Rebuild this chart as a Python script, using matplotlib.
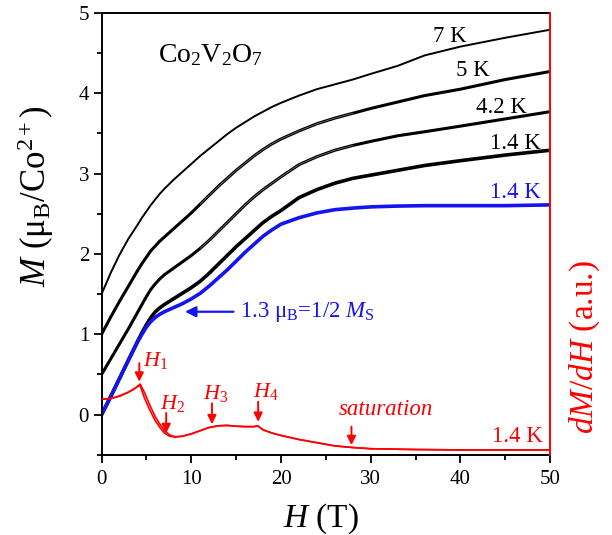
import numpy as np
import matplotlib
matplotlib.use('Agg')
import matplotlib.pyplot as plt

# field (T) and magnetization curves (muB/Co2+)
field = [0, 1, 2, 3, 4, 4.5, 5, 5.5, 6, 6.5, 7, 8, 9, 10, 11, 12, 13, 14, 15, 16,
         17, 18, 19, 20, 22, 24, 26, 28, 30, 33, 36, 40, 45, 50]

m_7K = [1.50, 1.76, 1.99, 2.19, 2.36, 2.45, 2.53, 2.61, 2.68, 2.75, 2.81, 2.92, 3.02,
        3.12, 3.22, 3.31, 3.40, 3.49, 3.57, 3.64, 3.71, 3.77, 3.83, 3.88, 3.97, 4.05,
        4.11, 4.17, 4.24, 4.34, 4.47, 4.58, 4.69, 4.79]
m_5K = [1.00, 1.21, 1.41, 1.60, 1.79, 1.88, 1.96, 2.04, 2.10, 2.16, 2.21, 2.31, 2.41,
        2.51, 2.62, 2.73, 2.84, 2.94, 3.04, 3.13, 3.22, 3.30, 3.37, 3.43, 3.53, 3.62,
        3.69, 3.75, 3.81, 3.89, 3.97, 4.05, 4.17, 4.27]
m_42K = [0.50, 0.69, 0.88, 1.07, 1.27, 1.37, 1.47, 1.56, 1.63, 1.69, 1.74, 1.82, 1.90,
         1.98, 2.07, 2.17, 2.28, 2.39, 2.50, 2.61, 2.71, 2.80, 2.88, 2.96, 3.11, 3.21,
         3.29, 3.35, 3.40, 3.47, 3.52, 3.59, 3.68, 3.77]
m_14K = [0.00, 0.22, 0.45, 0.68, 0.91, 1.02, 1.12, 1.21, 1.28, 1.33, 1.37, 1.44, 1.51,
         1.58, 1.66, 1.76, 1.87, 1.98, 2.09, 2.19, 2.29, 2.39, 2.47, 2.54, 2.70, 2.80,
         2.88, 2.94, 2.98, 3.04, 3.10, 3.16, 3.23, 3.29]
m_14K_corr = [0.00, 0.22, 0.45, 0.68, 0.90, 1.00, 1.09, 1.16, 1.21, 1.25, 1.28, 1.33,
              1.38, 1.44, 1.51, 1.60, 1.70, 1.80, 1.91, 2.02, 2.12, 2.22, 2.30, 2.37,
              2.45, 2.51, 2.55, 2.57, 2.585, 2.595, 2.60, 2.60, 2.60, 2.61]

# dM/dH at 1.4 K (a.u.), up and down sweeps
field_d = [0, 1, 2, 3, 3.5, 4.0, 4.3, 4.8, 5.4, 6.0, 6.5, 7.0, 7.6, 8.2, 9, 10, 11, 12,
           13, 14, 15, 16, 17, 17.4, 18, 19, 20, 22, 24, 26, 28, 30, 35, 40, 45, 50]
dmdh_up = [0.19, 0.20, 0.23, 0.28, 0.31, 0.35, 0.36, 0.20, 0.05, -0.08, -0.16, -0.23,
           -0.27, -0.28, -0.27, -0.24, -0.20, -0.16, -0.14, -0.135, -0.145, -0.15,
           -0.15, -0.14, -0.19, -0.23, -0.26, -0.31, -0.35, -0.39, -0.41, -0.425,
           -0.435, -0.44, -0.44, -0.44]
dmdh_dn = [0.19, 0.20, 0.23, 0.28, 0.31, 0.35, 0.38, 0.27, 0.11, -0.03, -0.12, -0.20,
           -0.255, -0.275, -0.27, -0.24, -0.20, -0.16, -0.14, -0.135, -0.145, -0.15,
           -0.15, -0.14, -0.19, -0.23, -0.26, -0.31, -0.35, -0.39, -0.41, -0.425,
           -0.435, -0.44, -0.44, -0.44]

curve_labels = ['7 K', '5 K', '4.2 K', '1.4 K']
label_pos = [(40.7, 4.64), (43.3, 4.22), (47.4, 3.75), (49.0, 3.31)]
crit_names = ['$H_1$', '$H_2$', '$H_3$', '$H_4$']
crit_fields = [4.2, 7.2, 12.3, 17.45]
crit_tops = [0.64, 0.02, 0.14, 0.16]
crit_tips = [0.41, -0.23, -0.12, -0.09]
crit_text = [(4.65, 0.60), (6.5, 0.07), (11.3, 0.20), (16.9, 0.22)]
sat_field = 27.85

RED = '#ff0000'
BLUE = '#1414f0'

plt.rcParams['font.family'] = 'Liberation Serif'
plt.rcParams['mathtext.fontset'] = 'custom'
plt.rcParams['mathtext.rm'] = 'Liberation Serif'
plt.rcParams['mathtext.it'] = 'Liberation Serif:italic'
plt.rcParams['mathtext.bf'] = 'Liberation Serif:bold'

fig = plt.figure(figsize=(6.12, 5.35), dpi=100)
ax = fig.add_axes([0.166, 0.150, 0.733, 0.826])
ax2 = ax.twinx()

H = np.array(field)
core = (H >= 11) & (H <= 28)

ax.plot(field, m_7K, color='black', lw=1.4)
for m in (m_5K, m_42K):
    ax.plot(field, m, color='black', lw=2.2)
    ax.plot(H[core], np.array(m)[core], color='white', lw=0.4, alpha=0.6)
ax.plot(field, m_14K, color='black', lw=2.6)
ax.plot(field, m_14K_corr, color=BLUE, lw=2.6)

ax2.plot(field_d, dmdh_up, color=RED, lw=1.2)
ax2.plot(field_d, dmdh_dn, color=RED, lw=1.2)

ax.set_xlim(0, 50)
ax.set_ylim(-0.5, 5)
ax2.set_ylim(-0.5, 5)
ax2.set_yticks([])

ax.set_xticks(np.arange(0, 51, 10))
ax.set_xticks(np.arange(5, 50, 10), minor=True)
ax.set_yticks(np.arange(0, 6, 1))
ax.set_yticks(np.arange(-0.5, 5, 1), minor=True)
ax.tick_params(which='major', direction='out', length=6, width=1.3, labelsize=15, pad=3)
ax.tick_params(which='minor', direction='out', length=3.6, width=1.3)
ax.tick_params(axis='x', which='major', pad=5)
ax.tick_params(top=False, right=False)

for s in ax.spines.values():
    s.set_linewidth(1.4)
ax.spines['right'].set_visible(False)
for name in ('left', 'top', 'bottom'):
    ax2.spines[name].set_visible(False)
ax2.spines['right'].set_color(RED)
ax2.spines['right'].set_linewidth(1.4)

ax.set_xlabel('$H$ (T)', fontsize=24)
ax.xaxis.set_label_coords(0.49, -0.105)
ax.set_ylabel('$M$ (μ$_\\mathrm{B}$/Co$^{2+}$)', fontsize=25)
ax.yaxis.set_label_coords(-0.101, 0.585)
ax2.set_ylabel('$dM/dH$ (a.u.)', fontsize=24, color=RED)
ax2.yaxis.set_label_coords(1.038, 0.2425)

ax.text(6.3, 4.39, 'Co$_2$V$_2$O$_7$', fontsize=20, ha='left', va='baseline')

for lab, (x, y) in zip(curve_labels, label_pos):
    ax.text(x, y, lab, fontsize=16.5, ha='right', va='baseline')
ax.text(49.0, 2.70, '1.4 K', fontsize=16.5, ha='right', va='baseline', color=BLUE)
ax.text(49.2, -0.34, '1.4 K', fontsize=16.5, ha='right', va='baseline', color=RED)

ax.annotate('', xy=(9.3, 1.28), xytext=(14.7, 1.28),
            arrowprops=dict(arrowstyle='-|>', color=BLUE, lw=1.6, mutation_scale=16,
                            shrinkA=0, shrinkB=0))
ax.text(15.4, 1.28, '1.3 μ$_\\mathrm{B}$=1/2 $M_\\mathrm{S}$', fontsize=16.5,
        color=BLUE, ha='left', va='center')

for name, hx, top, tip, (tx, ty) in zip(crit_names, crit_fields, crit_tops, crit_tips,
                                        crit_text):
    ax.annotate('', xy=(hx, tip), xytext=(hx, top),
                arrowprops=dict(arrowstyle='-|>', color=RED, lw=1.4, mutation_scale=13,
                                shrinkA=0, shrinkB=0))
    ax.text(tx, ty, name, fontsize=16, color=RED, ha='left', va='baseline')

ax.annotate('', xy=(sat_field, -0.38), xytext=(sat_field, -0.15),
            arrowprops=dict(arrowstyle='-|>', color=RED, lw=1.4, mutation_scale=13,
                            shrinkA=0, shrinkB=0))
ax.text(31.7, 0.0, 'saturation', fontsize=16.5, color=RED, style='italic',
        ha='center', va='baseline')

fig.savefig('out.png', dpi=100)
